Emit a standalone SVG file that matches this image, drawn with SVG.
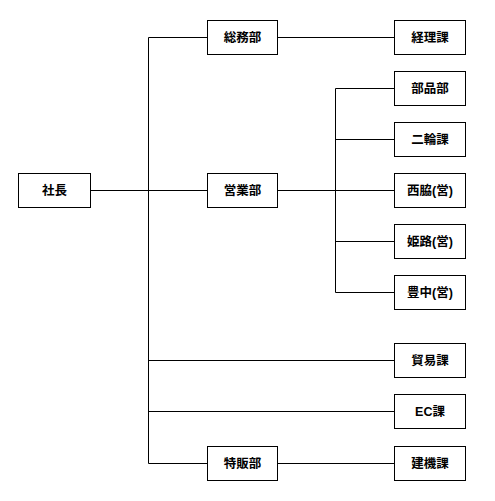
<svg xmlns="http://www.w3.org/2000/svg" width="495" height="501" viewBox="0 0 495 501">
<style>
.box{fill:#fff;stroke:#000;stroke-width:1}
.t{font-family:"Liberation Sans","Noto Sans CJK JP",sans-serif;font-weight:bold;font-size:12.5px;fill:#000;text-anchor:middle;dominant-baseline:central}
.c{stroke:#000;stroke-width:1;fill:none}
</style>
<rect width="495" height="501" fill="#fff"/>
<g id="connectors" class="c">
<path d="M90.5 190.5H207.5"/>
<path d="M148.5 37.5V463.5"/>
<path d="M148.5 37.5H207.5M148.5 463.5H207.5M148.5 360.5H394.5M148.5 411.5H394.5"/>
<path d="M277.5 37.5H394.5M277.5 463.5H394.5M277.5 190.5H394.5"/>
<path d="M335.5 88.5V292.5M335.5 88.5H394.5M335.5 139.5H394.5M335.5 241.5H394.5M335.5 292.5H394.5"/>
</g>
<g id="n-shacho"><rect class="box" x="18.5" y="173.5" width="72" height="34"/><text class="t" x="54.5" y="190.5">社長</text></g>
<g id="n-somu"><rect class="box" x="207.5" y="20.5" width="70" height="34"/><text class="t" x="242.5" y="37.5">総務部</text></g>
<g id="n-eigyo"><rect class="box" x="207.5" y="173.5" width="70" height="34"/><text class="t" x="242.5" y="190.5">営業部</text></g>
<g id="n-tokuhan"><rect class="box" x="207.5" y="446.5" width="70" height="34"/><text class="t" x="242.5" y="463.5">特販部</text></g>
<g id="n-keiri"><rect class="box" x="394.5" y="20.5" width="71" height="34"/><text class="t" x="430" y="37.5">経理課</text></g>
<g id="n-buhin"><rect class="box" x="394.5" y="71.5" width="71" height="34"/><text class="t" x="430" y="88.5">部品部</text></g>
<g id="n-nirin"><rect class="box" x="394.5" y="122.5" width="71" height="34"/><text class="t" x="430" y="139.5">二輪課</text></g>
<g id="n-nishiwaki"><rect class="box" x="394.5" y="173.5" width="71" height="34"/><text class="t" x="430" y="190.5">西脇(営)</text></g>
<g id="n-himeji"><rect class="box" x="394.5" y="224.5" width="71" height="34"/><text class="t" x="430" y="241.5">姫路(営)</text></g>
<g id="n-toyonaka"><rect class="box" x="394.5" y="275.5" width="71" height="34"/><text class="t" x="430" y="292.5">豊中(営)</text></g>
<g id="n-boeki"><rect class="box" x="394.5" y="343.5" width="71" height="34"/><text class="t" x="430" y="360.5">貿易課</text></g>
<g id="n-ec"><rect class="box" x="394.5" y="394.5" width="71" height="34"/><text class="t" x="430" y="411.5">EC課</text></g>
<g id="n-kenki"><rect class="box" x="394.5" y="446.5" width="71" height="34"/><text class="t" x="430" y="463.5">建機課</text></g>
</svg>
